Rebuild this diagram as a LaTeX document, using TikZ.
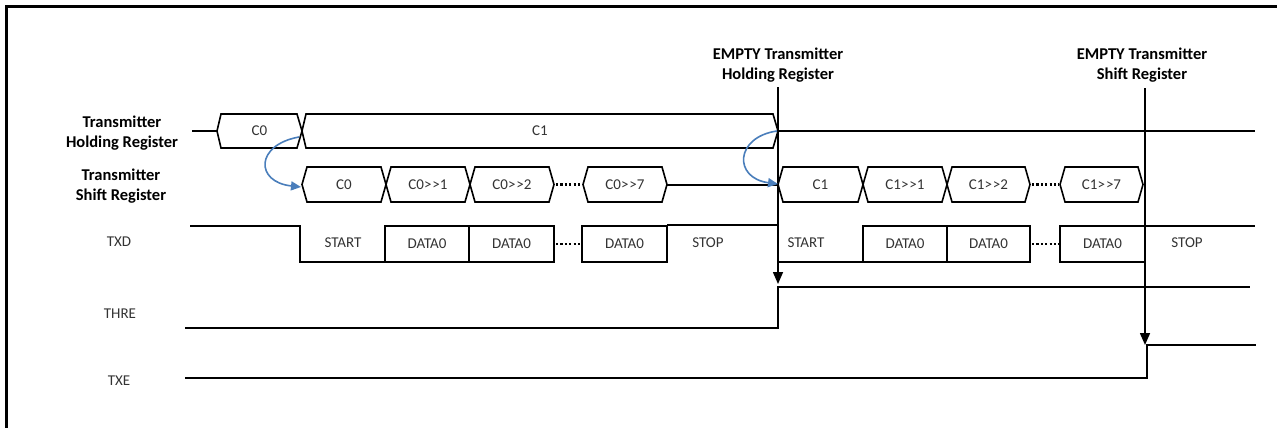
\documentclass[tikz,border=0pt]{standalone}
\usepackage{fontspec}
\setmainfont{Carlito}
\usetikzlibrary{arrows.meta}

\definecolor{handblue}{RGB}{74,126,187}

\begin{document}
\begin{tikzpicture}[x=1pt, y=-1pt,
    sig/.style={line width=1.6pt, line join=miter},
    marker/.style={line width=1.6pt, -{Triangle[width=10pt,length=12pt]}},
    handoff/.style={line width=1.6pt, handblue, -{Triangle[width=9pt,length=10pt]}},
    gap/.style={line width=2.8pt, dash pattern=on 2.2pt off 2.2pt},
    lbl/.style={font=\fontsize{15}{18}\selectfont, text=black!80, inner sep=0pt},
    rowname/.style={font=\bfseries\fontsize{16.5}{20}\selectfont, align=center, inner sep=0pt}]

    \useasboundingbox (0,0) rectangle (1277,428);

    % 1. Draw the frame
    \draw[line width=3pt] (6.5,428) -- (6.5,6.5) -- (1277,6.5);

    % 2. Row names and the two EMPTY labels
    \node[rowname] (nameTHR) at (122,133) {Transmitter\\Holding Register};
    \node[rowname] (nameTSR) at (121,186) {Transmitter\\Shift Register};
    \node[lbl] (nameTXD) at (119,242) {TXD};
    \node[lbl] (nameTHRE) at (120,314) {THRE};
    \node[lbl] (nameTXE) at (119,381) {TXE};
    \node[rowname] (emptyTHR) at (778,65) {EMPTY Transmitter\\Holding Register};
    \node[rowname] (emptyTSR) at (1142,65) {EMPTY Transmitter\\Shift Register};

    % 3. Transmitter holding register bus
    \draw[sig] (192,131) -- (217,131);
    \foreach \a/\b/\t in {217/302/C0, 302/778/C1} {
        \draw[sig] (\a,131) -- ({\a+4},114) -- ({\b-5},114) -- (\b,131)
            -- ({\b-5},148) -- ({\a+4},148) -- cycle;
        \node[lbl] (thr\a) at ({(\a+\b)/2},131) {\t};
    }
    \draw[sig] (778,131) -- (1255,131);

    % 4. Transmitter shift register bus
    \foreach \a/\b/\t in {302/386/C0, 386/470/C0>\kern1pt>1, 470/554/C0>\kern1pt>2,
                          583/667/C0>\kern1pt>7, 778/863/C1, 863/947/C1>\kern1pt>1,
                          947/1030/C1>\kern1pt>2, 1060/1143/C1>\kern1pt>7} {
        \draw[sig] (\a,184.5) -- ({\a+5},167) -- ({\b-5},167) -- (\b,184.5)
            -- ({\b-5},202) -- ({\a+5},202) -- cycle;
        \node[lbl] (tsr\a) at ({(\a+\b)/2},184.5) {\t};
    }
    \draw[gap] (556,184.5) -- (582,184.5);
    \draw[gap] (1032,184.5) -- (1059,184.5);
    \draw[sig] (667,185) -- (778,185);

    % 5. TXD frames
    \draw[sig] (190,226) -- (300,226) -- (300,262) -- (385,262);
    \draw[sig] (667,225) -- (778,225) -- (778,262) -- (863,262);
    \draw[sig] (1145,226) -- (1255,226);
    \foreach \a/\b in {385/469, 469/554, 582/667, 863/947, 947/1030, 1060/1145} {
        \draw[sig] (\a,226) rectangle (\b,262);
        \node[lbl] (txd\a) at ({(\a+\b)/2},244) {DATA0};
    }
    \draw[gap] (556,244) -- (581,244);
    \draw[gap] (1032,244) -- (1059,244);
    \node[lbl] (start1) at (343,243) {START};
    \node[lbl] (stop1) at (708,243) {STOP};
    \node[lbl] (start2) at (806,243) {START};
    \node[lbl] (stop2) at (1187,243) {STOP};

    % 6. THRE and TXE levels
    \draw[sig] (185,328) -- (778,328) -- (778,287) -- (1250,287);
    \draw[sig] (185,378) -- (1147,378) -- (1147,345) -- (1256,345);

    % 7. EMPTY markers
    \coordinate (topTHR) at (778,87);
    \coordinate (tipTHR) at (778,284);
    \coordinate (topTSR) at (1145,88);
    \coordinate (tipTSR) at (1145,345);
    \draw[marker] (topTHR) -- (tipTHR);
    \draw[marker] (topTSR) -- (tipTSR);

    % 8. Blue hand-off arrows
    \coordinate (from0) at (299,137);
    \coordinate (into0) at (301,187);
    \coordinate (from1) at (777,131);
    \coordinate (into1) at (778,184);
    \draw[handoff] (from0) .. controls (255,145) and (255,182) .. (into0);
    \draw[handoff] (from1) .. controls (735,137) and (733,178) .. (into1);

\end{tikzpicture}
\end{document}
